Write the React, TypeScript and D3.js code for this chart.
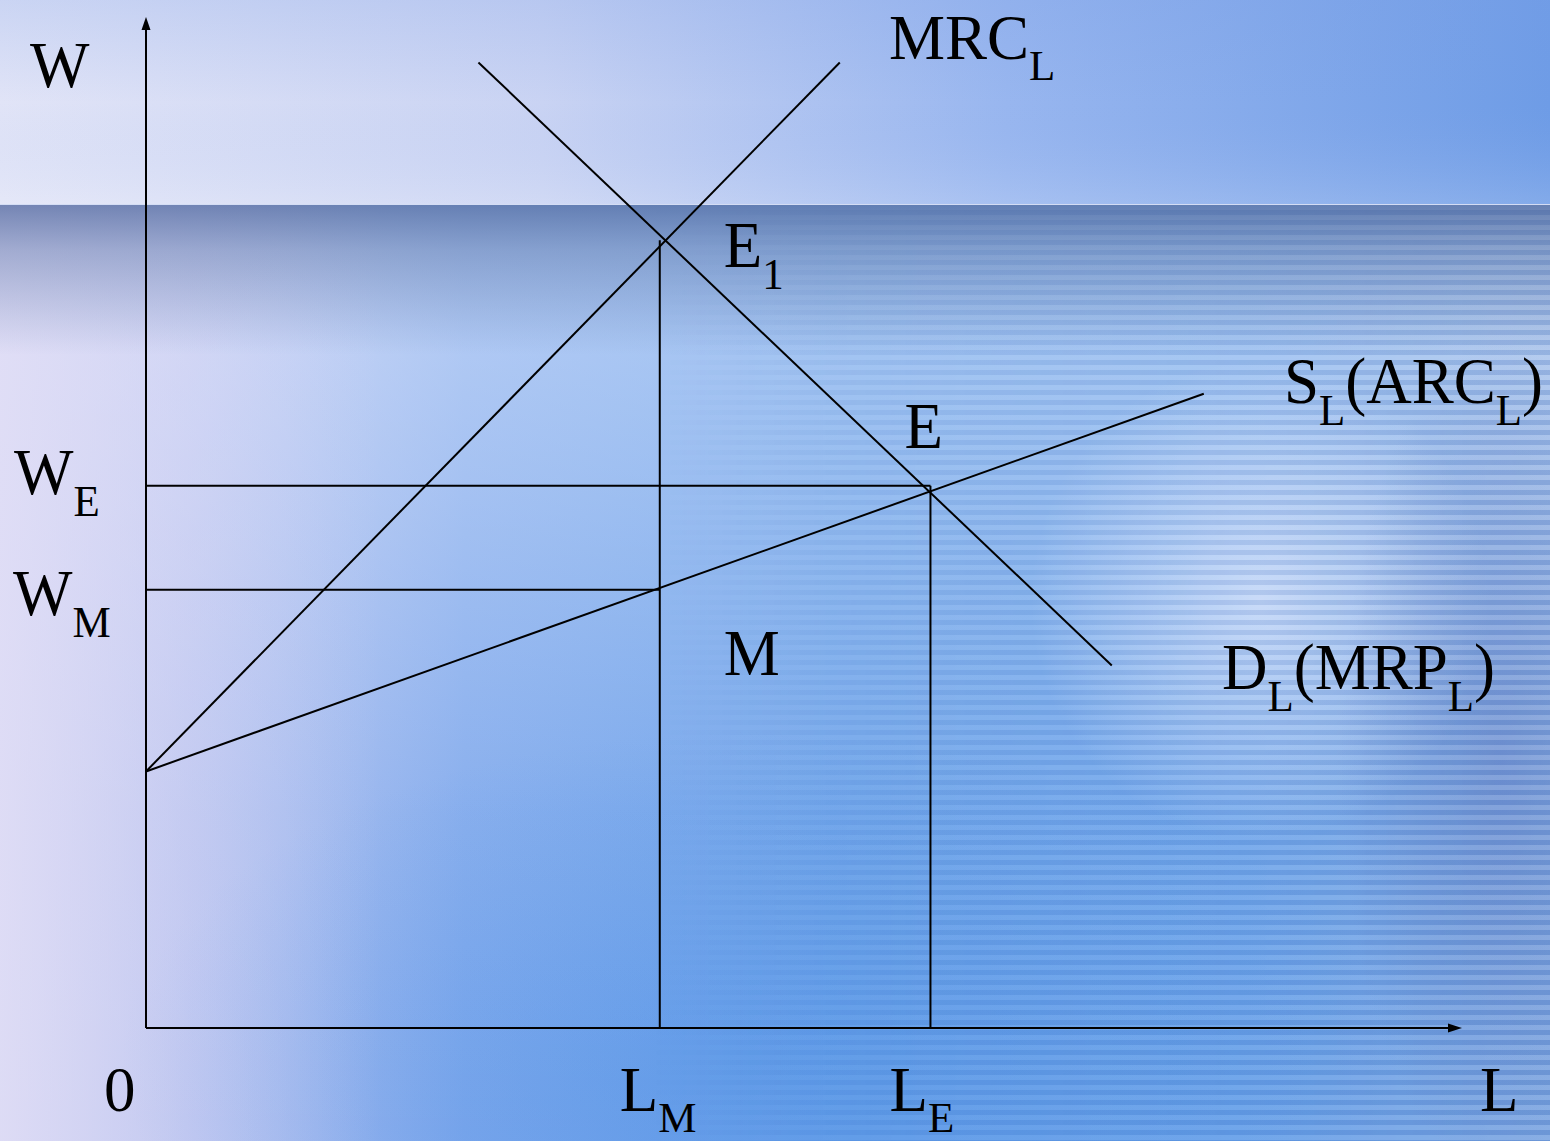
import React from "react";
import * as d3 from "d3";

// canvas size
const W = 1550;
const H = 1141;

// monopsony labour market (0..100 units)
const supplyL = [0, 80.5];
const supplyW = [25.4, 62.8];
const mrcL = [0, 52.8];
const mrcW = [25.4, 95.6];
const demandL = [25.3, 73.5];
const demandW = [95.6, 35.9];
const eqL = [39.1, 59.7]; // L_M, L_E
const eqW = [43.4, 53.7]; // W_M, W_E
const e1W = 78.0;

const serif = "'Liberation Serif', 'Times New Roman', serif";

// texto con subindices: [texto, esSub]
type Part = [string, boolean];
const Label = ({
  x,
  y,
  parts,
  sy = 1.05,
}: {
  x: number;
  y: number;
  parts: Part[];
  sy?: number;
}) => {
  let down = false;
  return (
    <text
      transform={`translate(${x},${y}) scale(1,${sy})`}
      fontFamily={serif}
      fontSize={63}
      fill="#000"
    >
      {parts.map(([t, sub], i) => {
        let dy = 0;
        if (sub && !down) {
          dy = 21;
          down = true;
        } else if (!sub && down) {
          dy = -21;
          down = false;
        }
        return (
          <tspan key={i} dy={dy} fontSize={sub ? 43 : 63}>
            {t}
          </tspan>
        );
      })}
    </text>
  );
};

const App = () => {
  const x = d3.scaleLinear().domain([0, 100]).range([146, 1460]);
  const y = d3.scaleLinear().domain([0, 100]).range([1028, 18]);

  const line = d3
    .line<[number, number]>()
    .x((d) => x(d[0]))
    .y((d) => y(d[1]));

  const zip = (a: number[], b: number[]) =>
    a.map((v, i) => [v, b[i]] as [number, number]);

  const curves = [zip(supplyL, supplyW), zip(mrcL, mrcW), zip(demandL, demandW)];

  // lineas guia hacia los ejes
  const guides: [number, number][][] = [
    [[0, eqW[1]], [eqL[1], eqW[1]]],
    [[0, eqW[0]], [eqL[0], eqW[0]]],
    [[eqL[0], 0], [eqL[0], e1W]],
    [[eqL[1], 0], [eqL[1], eqW[1]]],
  ];

  const x0 = x(0);
  const y0 = y(0);
  const yTop = y(100) - 1;
  const xEnd = x(100) + 2;

  return (
    <svg
      width={W}
      height={H}
      style={{ position: "absolute", left: 0, top: 0, display: "block" }}
    >
      <defs>
        <linearGradient id="base" x1="0" x2="1" y1="0" y2="0">
          <stop offset="0" stopColor="#cdd2f1" />
          <stop offset="0.12" stopColor="#b6c2ef" />
          <stop offset="0.3" stopColor="#80a9ec" />
          <stop offset="0.55" stopColor="#669fe9" />
          <stop offset="0.8" stopColor="#68a1ea" />
          <stop offset="1" stopColor="#7ca6e2" />
        </linearGradient>
        <linearGradient id="lift" x1="0" x2="0" y1="0" y2="1">
          <stop offset="0" stopColor="#f4f6ff" stopOpacity="0.5" />
          <stop offset="0.3" stopColor="#f4f6ff" stopOpacity="0.32" />
          <stop offset="0.65" stopColor="#f4f6ff" stopOpacity="0.08" />
          <stop offset="1" stopColor="#f4f6ff" stopOpacity="0" />
        </linearGradient>
        <linearGradient id="leftGlow" x1="0" x2="1" y1="0" y2="0">
          <stop offset="0" stopColor="#e0ddf6" stopOpacity="0.85" />
          <stop offset="0.5" stopColor="#d6d4f4" stopOpacity="0.35" />
          <stop offset="1" stopColor="#d6d4f4" stopOpacity="0" />
        </linearGradient>
        <linearGradient id="topBand" x1="0" x2="1" y1="0" y2="0">
          <stop offset="0" stopColor="#e1e4f7" />
          <stop offset="0.35" stopColor="#c9d3f3" />
          <stop offset="0.65" stopColor="#98b6ef" />
          <stop offset="1" stopColor="#6e9ce6" />
        </linearGradient>
        <linearGradient id="topShade" x1="0" x2="0" y1="0" y2="1">
          <stop offset="0" stopColor="#7a9ee6" stopOpacity="0.22" />
          <stop offset="0.5" stopColor="#7a9ee6" stopOpacity="0" />
          <stop offset="1" stopColor="#fff" stopOpacity="0.15" />
        </linearGradient>
        <linearGradient id="darkBand" x1="0" x2="0" y1="0" y2="1">
          <stop offset="0" stopColor="#2d4a88" stopOpacity="0.6" />
          <stop offset="0.3" stopColor="#34528e" stopOpacity="0.36" />
          <stop offset="1" stopColor="#3a5a96" stopOpacity="0" />
        </linearGradient>
        <radialGradient id="rightGlow" cx="0.5" cy="0.5" r="0.5">
          <stop offset="0" stopColor="#eef0ff" stopOpacity="0.6" />
          <stop offset="0.6" stopColor="#eef0ff" stopOpacity="0.25" />
          <stop offset="1" stopColor="#eef0ff" stopOpacity="0" />
        </radialGradient>
        <radialGradient id="bottomBlue" cx="0.5" cy="0.5" r="0.5">
          <stop offset="0" stopColor="#4b8fe6" stopOpacity="0.45" />
          <stop offset="1" stopColor="#4b8fe6" stopOpacity="0" />
        </radialGradient>
        <radialGradient id="rightDark" cx="0.5" cy="0.5" r="0.5">
          <stop offset="0" stopColor="#5a6fb8" stopOpacity="0.35" />
          <stop offset="1" stopColor="#5a6fb8" stopOpacity="0" />
        </radialGradient>
        <pattern id="stripes" width="10" height="10" patternUnits="userSpaceOnUse">
          <rect width="10" height="5" fill="#2f5aa8" fillOpacity="0.18" />
          <rect y="5" width="10" height="5" fill="#ffffff" fillOpacity="0.1" />
        </pattern>
        <linearGradient id="stripeFade" x1="0" x2="1" y1="0" y2="0">
          <stop offset="0" stopColor="#fff" stopOpacity="0" />
          <stop offset="0.3" stopColor="#fff" stopOpacity="0.45" />
          <stop offset="1" stopColor="#fff" stopOpacity="1" />
        </linearGradient>
        <mask id="stripeMask">
          <rect x="650" y="205" width="900" height="936" fill="url(#stripeFade)" />
        </mask>
      </defs>

      {/* fondo */}
      <rect width={W} height={H} fill="url(#base)" />
      <ellipse cx={760} cy={1060} rx={640} ry={330} fill="url(#bottomBlue)" />
      <rect y={205} width={W} height={H - 205} fill="url(#lift)" />
      <rect width={380} height={H} fill="url(#leftGlow)" />
      <ellipse cx={1260} cy={600} rx={230} ry={240} fill="url(#rightGlow)" />
      <ellipse cx={1500} cy={760} rx={160} ry={420} fill="url(#rightDark)" />
      <rect y={205} width={W} height={H - 205} fill="url(#stripes)" mask="url(#stripeMask)" />
      <rect y={205} width={W} height={150} fill="url(#darkBand)" />
      <rect width={W} height={205} fill="url(#topBand)" />
      <rect width={W} height={205} fill="url(#topShade)" />
      <line x1={0} x2={W} y1={204.5} y2={204.5} stroke="#d4ddf4" strokeWidth={1} />

      {/* ejes */}
      <line x1={x0} x2={x0} y1={y0} y2={yTop + 10} stroke="#000" strokeWidth={2} />
      <line x1={x0} x2={xEnd - 12} y1={y0} y2={y0} stroke="#000" strokeWidth={2.2} />
      <path
        d={`M${x0},${yTop} L${x0 - 4.5},${yTop + 13} L${x0 + 4.5},${yTop + 13} Z`}
        fill="#000"
      />
      <path
        d={`M${xEnd},${y0} L${xEnd - 14},${y0 - 4.5} L${xEnd - 14},${y0 + 4.5} Z`}
        fill="#000"
      />

      {/* curvas */}
      {curves.map((c, i) => (
        <path key={i} d={line(c) || ""} fill="none" stroke="#000" strokeWidth={2} />
      ))}
      {guides.map((g, i) => (
        <path key={"g" + i} d={line(g) || ""} fill="none" stroke="#000" strokeWidth={2} />
      ))}

      {/* etiquetas */}
      <Label x={30} y={87} parts={[["W", false]]} />
      <Label x={889} y={59} sy={1} parts={[["MRC", false], ["L", true]]} />
      <Label x={x(eqL[0]) + 64} y={y(e1W) + 27} parts={[["E", false], ["1", true]]} />
      <Label
        x={1284}
        y={403}
        parts={[["S", false], ["L", true], ["(ARC", false], ["L", true], [")", false]]}
      />
      <Label x={x(eqL[1]) - 26} y={y(eqW[1]) - 38} parts={[["E", false]]} />
      <Label x={14} y={494} parts={[["W", false], ["E", true]]} />
      <Label x={13} y={615} parts={[["W", false], ["M", true]]} />
      <Label x={x(eqL[0]) + 64} y={675} parts={[["M", false]]} />
      <Label
        x={1222}
        y={689}
        parts={[["D", false], ["L", true], ["(MRP", false], ["L", true], [")", false]]}
      />
      <Label x={104} y={1111} sy={1} parts={[["0", false]]} />
      <Label x={x(eqL[0]) - 40} y={1111} sy={1} parts={[["L", false], ["M", true]]} />
      <Label x={x(eqL[1]) - 41} y={1111} sy={1} parts={[["L", false], ["E", true]]} />
      <Label x={1480} y={1111} sy={1} parts={[["L", false]]} />
    </svg>
  );
};

export default App;
